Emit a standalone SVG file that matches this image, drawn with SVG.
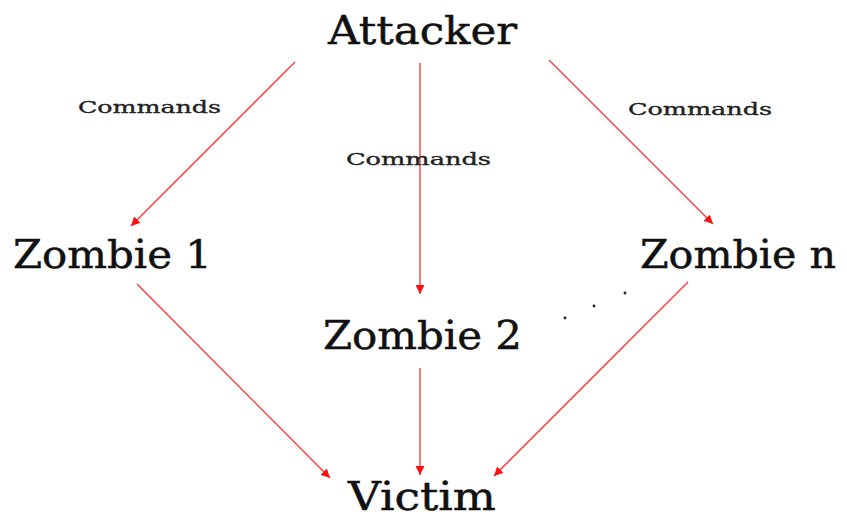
<svg xmlns="http://www.w3.org/2000/svg" width="847" height="519" viewBox="0 0 847 519">
<style>
.big{font-family:"DejaVu Serif","Liberation Serif",serif;font-size:40px;fill:#111;stroke:#111;stroke-width:0.5}
.lbl{font-family:"DejaVu Serif","Liberation Serif",serif;font-size:16px;fill:#222;stroke:#222;stroke-width:0.35}
.edge{stroke:#ff3030;stroke-width:1.3;fill:none;marker-end:url(#ah)}
</style>
<defs>
<marker id="ah" viewBox="0 0 10 10" refX="10" refY="5" markerWidth="9" markerHeight="9" markerUnits="userSpaceOnUse" orient="auto">
<path d="M0,0 L10,5 L0,10 z" fill="#ff1010"/>
</marker>
</defs>
<rect width="847" height="519" fill="#fff"/>
<g id="connectors">
<line class="edge" x1="295" y1="62" x2="131" y2="226"/>
<line class="edge" x1="420" y1="63" x2="420" y2="294"/>
<line class="edge" x1="549" y1="60" x2="713" y2="224"/>
<line class="edge" x1="137" y1="284" x2="330" y2="478"/>
<line class="edge" x1="420" y1="368" x2="420" y2="475"/>
<line class="edge" x1="688" y1="282" x2="494" y2="476"/>
</g>
<g id="labels">
<text class="lbl" x="78" y="113" textLength="143" lengthAdjust="spacingAndGlyphs">Commands</text>
<text class="lbl" x="346" y="165" textLength="145" lengthAdjust="spacingAndGlyphs">Commands</text>
<text class="lbl" x="628" y="115" textLength="144" lengthAdjust="spacingAndGlyphs">Commands</text>
</g>
<g id="attacker"><text class="big" x="328" y="44" textLength="189" lengthAdjust="spacingAndGlyphs">Attacker</text></g>
<g id="zombie1"><text class="big" x="13" y="268" textLength="199" lengthAdjust="spacingAndGlyphs">Zombie 1</text></g>
<g id="zombie2"><text class="big" x="323" y="349" textLength="199" lengthAdjust="spacingAndGlyphs">Zombie 2</text></g>
<g id="zombien"><text class="big" x="640" y="268" textLength="196" lengthAdjust="spacingAndGlyphs">Zombie n</text></g>
<g id="victim"><text class="big" x="348" y="510" font-size="36" textLength="148" lengthAdjust="spacingAndGlyphs">Victim</text></g>
<g id="dots" fill="#222">
<circle cx="565" cy="318" r="1.4"/>
<circle cx="594" cy="306" r="1.4"/>
<circle cx="625" cy="293" r="1.4"/>
</g>
</svg>
